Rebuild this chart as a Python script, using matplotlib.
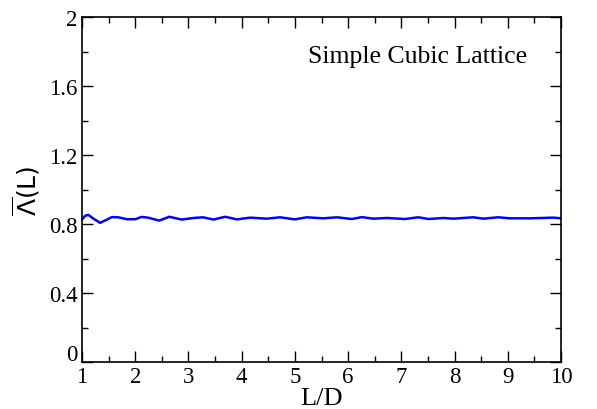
import matplotlib
matplotlib.use("Agg")
import matplotlib.pyplot as plt
import matplotlib.transforms as mtransforms
from matplotlib.ticker import MultipleLocator

# values
ld = [1.0, 1.06, 1.12, 1.21, 1.34, 1.43, 1.56, 1.68, 1.84, 2.00, 2.12, 2.24,
      2.45, 2.64, 2.87, 3.10, 3.27, 3.47, 3.69, 3.91, 4.16, 4.47, 4.72, 5.00,
      5.22, 5.53, 5.79, 6.07, 6.26, 6.47, 6.73, 7.07, 7.32, 7.51, 7.79, 7.98,
      8.35, 8.54, 8.82, 9.04, 9.42, 9.86, 10.0]
lam = [0.826, 0.848, 0.853, 0.832, 0.807, 0.820, 0.840, 0.839, 0.828, 0.828,
       0.841, 0.837, 0.820, 0.842, 0.826, 0.835, 0.839, 0.826, 0.842, 0.827,
       0.837, 0.831, 0.839, 0.827, 0.839, 0.833, 0.839, 0.829, 0.840, 0.831,
       0.835, 0.829, 0.839, 0.829, 0.835, 0.831, 0.839, 0.831, 0.839, 0.833,
       0.833, 0.837, 0.833]

y_ticks = [0, 0.4, 0.8, 1.2, 1.6, 2.0]
y_labels = ["0", "0.4", "0.8", "1.2", "1.6", "2"]

plt.rcParams["font.family"] = "Liberation Serif"
plt.rcParams["mathtext.fontset"] = "dejavusans"

fig = plt.figure(figsize=(5.97, 4.10), dpi=100)
ax = fig.add_axes([0.1374, 0.1146, 0.8023, 0.8414])

ax.plot(ld, lam, color="#0000ff", lw=1.8, solid_joinstyle="round")

ax.set_xlim(1, 10)
ax.set_ylim(0, 2)
ax.xaxis.set_major_locator(MultipleLocator(1))
ax.xaxis.set_minor_locator(MultipleLocator(0.5))
ax.set_yticks(y_ticks)
ax.set_yticklabels(y_labels)
ax.yaxis.set_minor_locator(MultipleLocator(0.2))

ax.tick_params(which="both", direction="in", top=True, right=True,
               labelsize=16.5, width=1)
ax.tick_params(which="major", length=8, pad=3)
ax.tick_params(which="minor", length=4)
for s in ax.spines.values():
    s.set_linewidth(1.2)

# the "0" on the y axis sits a bit above the axis corner, like the original
lab0 = ax.get_yticklabels()[0]
lab0.set_transform(lab0.get_transform() +
                   mtransforms.ScaledTranslation(0, 7 / 72, fig.dpi_scale_trans))

ax.set_xlabel("L/D", fontsize=19, labelpad=0)
ax.set_ylabel(r"$\overline{\Lambda}$(L)", fontsize=18, family="DejaVu Sans",
              labelpad=5)
ax.text(0.70, 0.887, "Simple Cubic Lattice", transform=ax.transAxes,
        fontsize=18.5, ha="center", va="center")

fig.savefig("out.png", dpi=100)
